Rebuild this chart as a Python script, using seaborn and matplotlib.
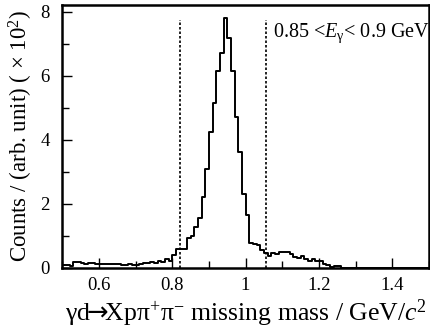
import numpy as np
import pandas as pd
import seaborn as sns
import matplotlib.pyplot as plt
from matplotlib.ticker import MultipleLocator, FormatStrFormatter

# missing-mass histogram, 0.01 GeV/c^2 bins from 0.5 to 1.5 (counts in units of 10^2)
bin_edges = np.linspace(0.5, 1.5, 101)
counts = [
    0.10, 0.10, 0.05, 0.17, 0.17, 0.16, 0.13, 0.14, 0.14, 0.13,
    0.11, 0.12, 0.13, 0.11, 0.12, 0.11, 0.10, 0.10, 0.11, 0.10,
    0.10, 0.13, 0.14, 0.14, 0.17, 0.16, 0.22, 0.19, 0.26, 0.21,
    0.39, 0.57, 0.60, 0.60, 0.92, 1.00, 1.28, 1.54, 2.22, 3.10,
    4.25, 5.14, 6.15, 6.72, 7.79, 7.17, 6.15, 4.70, 3.63, 2.29,
    1.65, 0.76, 0.74, 0.72, 0.55, 0.45, 0.38, 0.45, 0.42, 0.48,
    0.50, 0.48, 0.42, 0.35, 0.30, 0.38, 0.26, 0.22, 0.27, 0.20,
    0.20, 0.12, 0.07, 0.03, 0.05, 0.06, 0.00, 0.00, 0.00, 0.00,
    0.00, 0.00, 0.00, 0.00, 0.00, 0.00, 0.00, 0.00, 0.00, 0.00,
    0.00, 0.00, 0.00, 0.00, 0.00, 0.00, 0.00, 0.00, 0.00, 0.00,
]
cut_lines = [0.822, 1.057]
cut_top = 7.75

sns.set_theme(style="ticks")
plt.rcParams["font.family"] = ["Liberation Serif", "DejaVu Serif"]
plt.rcParams["mathtext.fontset"] = "custom"
plt.rcParams["mathtext.rm"] = "Liberation Serif"
plt.rcParams["mathtext.it"] = "Liberation Serif:italic"
plt.rcParams["mathtext.sf"] = "DejaVu Sans"
for key in ["text.color", "axes.labelcolor", "xtick.color", "ytick.color"]:
    plt.rcParams[key] = "black"

centers = (bin_edges[:-1] + bin_edges[1:]) / 2
df = pd.DataFrame({"mass": centers, "counts": counts})

fig = plt.figure(figsize=(4.31, 3.28), dpi=100)
ax = fig.add_axes([0.1443, 0.1838, 0.851, 0.801])

sns.histplot(data=df, x="mass", weights="counts", bins=list(bin_edges),
             element="step", fill=False, color="black", linewidth=1.4, ax=ax)

ax.vlines(cut_lines, 0, cut_top, colors="black", linewidth=1.2,
          linestyles=(0, (1.5, 1.2)))

ax.text(0.575, 0.893, r"0.85 <$E_{\mathrm{γ}}$< 0.9 GeV", transform=ax.transAxes,
        fontsize=14.5, ha="left", va="center")

ax.set_xlim(0.5, 1.5)
ax.set_ylim(0, 8.21)
ax.xaxis.set_major_locator(MultipleLocator(0.2))
ax.xaxis.set_minor_locator(MultipleLocator(0.1))
ax.xaxis.set_major_formatter(FormatStrFormatter("%g"))
ax.yaxis.set_major_locator(MultipleLocator(2))
ax.yaxis.set_minor_locator(MultipleLocator(1))
ax.tick_params(which="both", direction="in", width=1.0, labelsize=13.5)
ax.tick_params(which="major", length=7)
ax.tick_params(which="minor", length=5)
ax.tick_params(axis="x", pad=7)
ax.tick_params(axis="y", pad=9)
for side in ax.spines.values():
    side.set_linewidth(1.8)
    side.set_color("black")

ax.set_xlabel(r"γd$\!\mathsf{→}\!$Xpπ$^{+}$π$^{-}$ missing mass / GeV/$c^{2}$",
              fontsize=18.5, labelpad=2)
ax.set_ylabel(r"Counts / (arb. unit) ( × 10$^{2}$)", fontsize=16.5, labelpad=4)

fig.savefig("out.png", dpi=100)
